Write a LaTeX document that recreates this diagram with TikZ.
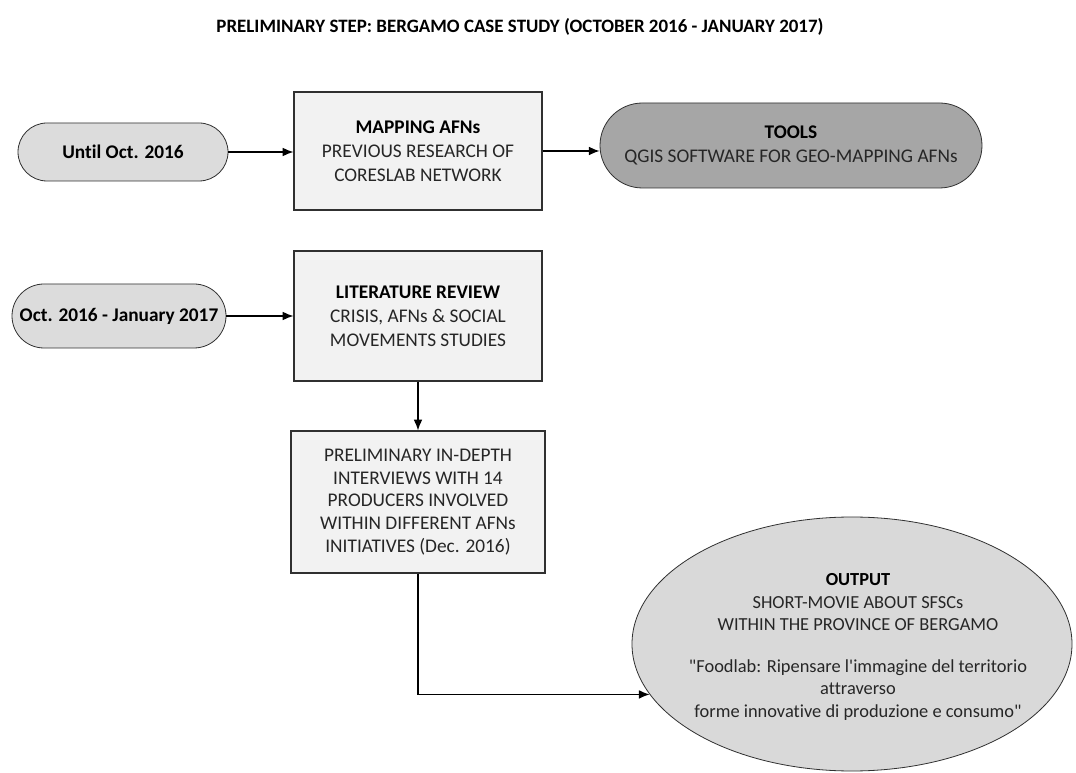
\documentclass[tikz,border=0pt]{standalone}
\usepackage{fontspec}
\setmainfont{Carlito}[Ligatures={TeXOff,CommonOff}]
\usetikzlibrary{shapes.misc,shapes.geometric,arrows.meta}
\definecolor{boxfill}{HTML}{F2F2F2}
\definecolor{pillfill}{HTML}{DCDCDC}
\definecolor{toolfill}{HTML}{A6A6A6}
\definecolor{ovalfill}{HTML}{D9D9D9}
\definecolor{ink}{HTML}{262626}
\definecolor{edge}{HTML}{303030}
\begin{document}
\begin{tikzpicture}[x=0.75pt,y=-0.75pt,
  stepbox/.style={draw=edge,line width=0.9pt,fill=boxfill,align=center,
    text=ink,inner sep=0pt,font=\fontsize{14.5}{18}\selectfont},
  datepill/.style={rounded rectangle,draw=edge,line width=0.6pt,fill=pillfill,
    align=center,inner sep=0pt,font=\fontsize{14.5}{18}\selectfont\bfseries},
  toolpill/.style={rounded rectangle,draw=edge,line width=0.6pt,fill=toolfill,
    align=center,text=ink,inner sep=0pt,font=\fontsize{14.5}{18}\selectfont},
  conn/.style={line width=0.9pt,draw=black,-{Latex[length=8pt,width=6.5pt]}}]
\useasboundingbox (0,0) rectangle (1076,773);
\fill[white] (0,0) rectangle (1076,773);

% heading
\node[font=\fontsize{14.2}{17}\selectfont\bfseries,text=black] (title) at (520,27)
  {PRELIMINARY STEP: BERGAMO CASE STUDY (OCTOBER 2016 - JANUARY 2017)};

% first row
\node[datepill,minimum width=157.5pt,minimum height=43.5pt] (until) at (123,152)
  {Until Oct. 2016};
\node[stepbox,minimum width=186pt,minimum height=88.5pt] (map) at (418,151)
  {\textbf{\color{black}MAPPING AFNs}\\PREVIOUS RESEARCH OF\\CORESLAB NETWORK};
\node[toolpill,minimum width=286.5pt,minimum height=63.75pt] (tools) at (791,145.5)
  {\textbf{\color{black}TOOLS}\\QGIS SOFTWARE FOR GEO-MAPPING AFNs};

% second row
\node[datepill,minimum width=160.5pt,minimum height=48pt] (oct) at (119,316)
  {Oct. 2016 - January 2017};
\node[stepbox,minimum width=186pt,minimum height=97.5pt] (lit) at (418,316)
  {\textbf{\color{black}LITERATURE REVIEW}\\CRISIS, AFNs \& SOCIAL\\MOVEMENTS STUDIES};

% interviews
\node[stepbox,minimum width=190.5pt,minimum height=106.5pt,
  font=\fontsize{14.5}{17}\selectfont] (inter) at (418,502)
  {PRELIMINARY IN-DEPTH\\INTERVIEWS WITH 14\\PRODUCERS INVOLVED\\WITHIN DIFFERENT AFNs\\INITIATIVES (Dec. 2016)};

% output oval
\node[ellipse,draw=edge,line width=0.6pt,fill=ovalfill,inner sep=0pt,
  minimum width=330pt,minimum height=190.5pt] (out) at (852,644) {};
\node[align=center,text=ink,font=\fontsize{13.8}{17}\selectfont] (outtext) at (858,647)
  {\textbf{\color{black}OUTPUT}\\SHORT-MOVIE ABOUT SFSCs\\WITHIN THE PROVINCE OF BERGAMO\\[14pt]
   "Foodlab: Ripensare l'immagine del territorio\\attraverso\\forme innovative di produzione e consumo"};

% connectors
\draw[conn] (until.east) -- (until.east -| map.west);
\draw[conn] (map.east) -- (map.east -| tools.west);
\draw[conn] (oct.east) -- (lit.west);
\draw[conn] (lit.south) -- (inter.north);
\draw[conn] (inter.south) |- (out.194);
\end{tikzpicture}
\end{document}
